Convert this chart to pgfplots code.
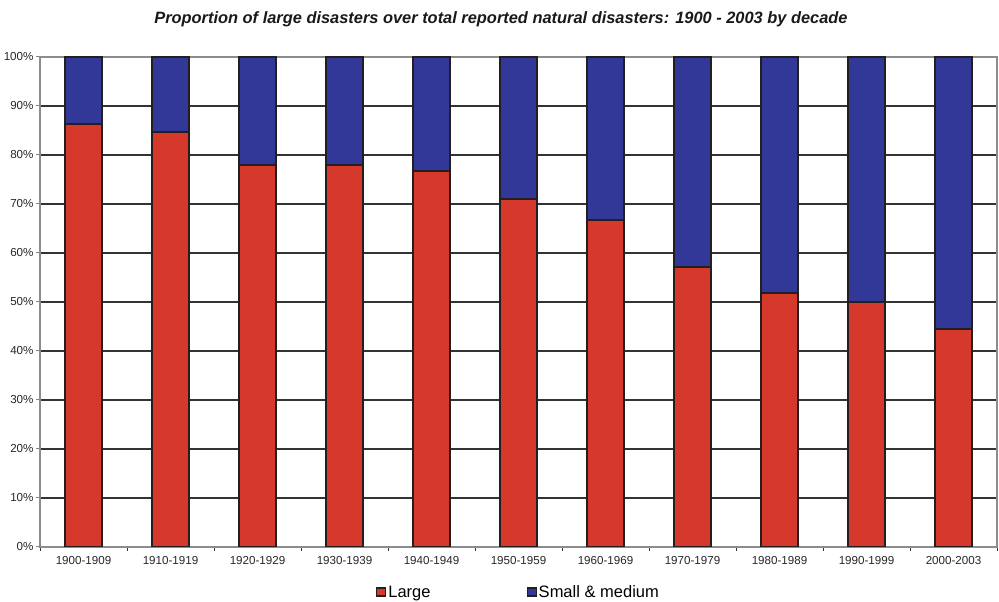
\documentclass[border=0pt]{standalone}
\usepackage{pgfplots}
\pgfplotsset{compat=1.18}
\usepackage{fontspec}
\setmainfont{Liberation Sans}
\definecolor{cRed}{RGB}{214,57,43}
\definecolor{cBlue}{RGB}{49,56,152}
\definecolor{cEdge}{RGB}{35,31,32}
\begin{document}
\begin{tikzpicture}[x=1pt,y=1pt]
\useasboundingbox (0,0) rectangle (999,602);
\node[font=\fontsize{16.4}{18}\selectfont\bfseries\itshape, text=black!90] at (501,583) {Proportion of large disasters over total reported natural disasters: 1900 - 2003 by decade};
\begin{axis}[
  at={(40pt,55pt)}, anchor=south west,
  scale only axis, width=957pt, height=490pt,
  ybar stacked, bar width=37pt,
  xmin=-0.5, xmax=10.5, ymin=0, ymax=100,
  xtick={-0.5,0.5,...,10.5},
  x tick label as interval,
  xticklabels={1900-1909,1910-1919,1920-1929,1930-1939,1940-1949,1950-1959,1960-1969,1970-1979,1980-1989,1990-1999,2000-2003},
  x tick style={black!80, line width=1pt},
  ytick={0,10,...,100},
  yticklabel={\pgfmathprintnumber{\tick}\%},
  y tick style={gray, line width=1pt},
  major tick length=4pt,
  tick align=outside,
  tick pos=left,
  ymajorgrids,
  grid style={black!80, line width=1.1pt},
  axis line style={gray!90, line width=1.6pt},
  ticklabel style={font=\fontsize{11.6}{13}\selectfont, text=black!85},
  /pgf/number format/assume math mode=true,
  xticklabel style={yshift=-2pt},
  yticklabel style={xshift=1pt},
  legend style={draw=none, fill=none, at={(axis description cs:0.5,-0.092)}, anchor=center,
    font=\fontsize{16.5}{18}\selectfont, legend columns=2,
    /tikz/every even column/.append style={column sep=94pt}},
  legend image code/.code={\draw[#1, line width=1.2pt] (0pt,-4pt) rectangle (9pt,4pt);},
]
\addplot[fill=cRed, draw=cEdge, line width=2pt] coordinates {(0,86.3) (1,84.6) (2,78.0) (3,78.0) (4,76.7) (5,71.0) (6,66.7) (7,57.1) (8,51.9) (9,50.1) (10,44.5)};
\addplot[fill=cBlue, draw=cEdge, line width=2pt] coordinates {(0,13.7) (1,15.4) (2,22.0) (3,22.0) (4,23.3) (5,29.0) (6,33.3) (7,42.9) (8,48.1) (9,49.9) (10,55.5)};
\legend{Large, Small \& medium}
\end{axis}
\end{tikzpicture}
\end{document}
